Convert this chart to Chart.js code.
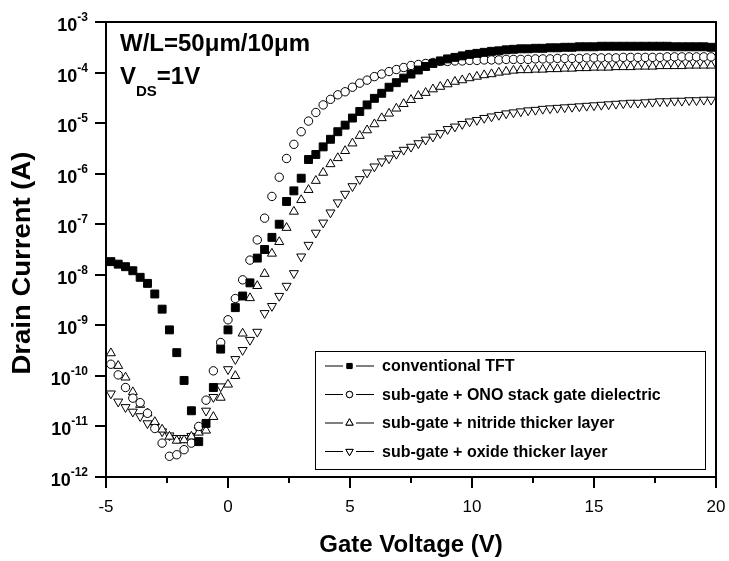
<!DOCTYPE html>
<html>
<head>
<meta charset="utf-8">
<script src="https://cdn.jsdelivr.net/npm/chart.js@4.4.1/dist/chart.umd.min.js"></script>
<style>
html,body{margin:0;padding:0;background:#fff;}
#wrap{width:729px;height:561px;position:relative;}
</style>
</head>
<body>
<div id="wrap"><canvas id="c" width="729" height="561"></canvas></div>
<script>
// ---- data (gate voltage in V, drain current given as log10(I/A)) ----
const gateVoltage = [-4.8,-4.5,-4.2,-3.9,-3.6,-3.3,-3.0,-2.7,-2.4,-2.1,-1.8,-1.5,-1.2,-0.9,-0.6,-0.3,0,
  0.3,0.6,0.9,1.2,1.5,1.8,2.1,2.4,2.7,3.0,3.3,3.6,3.9,4.2,4.5,4.8,5.1,5.4,5.7,6.0,6.3,6.6,6.9,7.2,7.5,7.8,8.1,8.4,8.7,9.0,
  9.3,9.6,9.9,10.2,10.5,10.8,11.1,11.4,11.7,12.0,
  12.3,12.6,12.9,13.2,13.5,13.8,14.1,14.4,14.7,15.0,15.3,15.6,15.9,16.2,16.5,16.8,17.1,17.4,17.7,18.0,18.3,18.6,18.9,19.2,19.5,19.8];

const logConventional = [-7.74,-7.79,-7.84,-7.92,-8.05,-8.17,-8.38,-8.68,-9.09,-9.54,-10.09,-10.69,-11.30,-10.94,-10.23,-9.47,-9.09,
  -8.65,-8.42,-8.16,-7.67,-7.50,-7.26,-7.00,-6.55,-6.34,-6.09,-5.72,-5.62,-5.47,-5.32,-5.17,-5.04,-4.90,-4.77,-4.64,-4.51,-4.41,-4.29,-4.20,-4.11,-4.03,-3.95,-3.88,-3.82,-3.77,-3.73,
  -3.70,-3.67,-3.64,-3.62,-3.60,-3.58,-3.57,-3.55,-3.54,-3.53,
  -3.53,-3.52,-3.52,-3.51,-3.51,-3.50,-3.50,-3.49,-3.49,-3.49,-3.48,-3.48,-3.48,-3.48,-3.48,-3.48,-3.48,-3.48,-3.48,-3.48,-3.49,-3.49,-3.49,-3.49,-3.49,-3.50];

const logONO = [-9.77,-9.98,-10.23,-10.44,-10.53,-10.74,-11.04,-11.33,-11.59,-11.56,-11.46,-11.33,-11.00,-10.48,-9.90,-9.34,-8.89,
  -8.47,-8.10,-7.71,-7.31,-6.88,-6.45,-6.07,-5.70,-5.42,-5.17,-4.96,-4.79,-4.64,-4.53,-4.44,-4.38,-4.29,-4.21,-4.15,-4.08,-4.03,-3.98,-3.94,-3.90,-3.86,-3.84,-3.82,-3.80,-3.78,-3.78,
  -3.77,-3.77,-3.76,-3.76,-3.75,-3.75,-3.75,-3.74,-3.74,-3.74,
  -3.74,-3.73,-3.73,-3.73,-3.72,-3.72,-3.72,-3.72,-3.71,-3.71,-3.71,-3.71,-3.71,-3.70,-3.70,-3.70,-3.70,-3.70,-3.70,-3.69,-3.69,-3.69,-3.69,-3.69,-3.69,-3.69];

const logNitride = [-9.55,-9.80,-10.03,-10.32,-10.57,-10.74,-10.91,-11.06,-11.20,-11.28,-11.27,-11.20,-11.12,-11.08,-10.81,-10.43,-10.17,
  -10.00,-9.16,-8.46,-8.22,-7.98,-7.58,-7.35,-7.07,-6.75,-6.52,-6.32,-6.14,-5.98,-5.81,-5.69,-5.55,-5.40,-5.25,-5.14,-5.02,-4.90,-4.81,-4.71,-4.62,-4.54,-4.46,-4.40,-4.33,-4.28,-4.23,
  -4.18,-4.15,-4.11,-4.08,-4.05,-4.03,-4.00,-3.98,-3.96,-3.95,
  -3.95,-3.94,-3.94,-3.93,-3.93,-3.92,-3.92,-3.91,-3.91,-3.90,-3.90,-3.90,-3.89,-3.89,-3.89,-3.88,-3.88,-3.88,-3.87,-3.87,-3.87,-3.87,-3.86,-3.86,-3.86,-3.86];

const logOxide = [-10.35,-10.51,-10.62,-10.71,-10.80,-10.94,-11.00,-11.10,-11.18,-11.23,-11.23,-11.19,-11.07,-10.69,-10.42,-10.21,-9.87,
  -9.67,-9.49,-9.29,-9.13,-8.76,-8.62,-8.42,-8.22,-7.97,-7.64,-7.41,-7.17,-6.97,-6.77,-6.57,-6.40,-6.25,-6.11,-5.98,-5.86,-5.76,-5.70,-5.61,-5.53,-5.47,-5.40,-5.33,-5.27,-5.20,-5.12,
  -5.07,-5.02,-4.97,-4.94,-4.90,-4.87,-4.84,-4.81,-4.79,-4.77,
  -4.75,-4.74,-4.72,-4.71,-4.70,-4.69,-4.68,-4.67,-4.66,-4.65,-4.64,-4.63,-4.62,-4.61,-4.60,-4.60,-4.59,-4.58,-4.57,-4.57,-4.56,-4.56,-4.55,-4.55,-4.54,-4.54];

const seriesLabels = ['conventional TFT','sub-gate + ONO stack gate dielectric','sub-gate + nitride thicker layer','sub-gate + oxide thicker layer'];
const yTickExponents = [-3,-4,-5,-6,-7,-8,-9,-10,-11,-12];
const xTickLabels = [-5,0,5,10,15,20];
const xMinorTicks = [-2.5,2.5,7.5,12.5,17.5];

// ---- build points ----
function pts(logs){ return gateVoltage.map((v,i)=>({x:v, y:Math.pow(10, logs[i])})); }

const FONT = '"Liberation Sans", Arial, sans-serif';

const styles = [
  {pointStyle:'rect', radius:5.6, bg:'#000', rot:0, leg:3.6},
  {pointStyle:'circle', radius:4.2, bg:'#fff', rot:0, leg:3.2},
  {pointStyle:'triangle', radius:5.2, bg:'#fff', rot:0, leg:4.2},
  {pointStyle:'triangle', radius:5.2, bg:'#fff', rot:180, leg:4.2}
];
const allLogs = [logConventional, logONO, logNitride, logOxide];

const datasets = allLogs.map((lg,i)=>({
  label: seriesLabels[i],
  data: pts(lg),
  showLine:false,
  pointStyle: styles[i].pointStyle,
  pointRadius: styles[i].radius,
  pointRotation: styles[i].rot,
  pointBackgroundColor: styles[i].bg,
  pointBorderColor:'#000',
  pointBorderWidth:1,
  pointHoverRadius: styles[i].radius
}));

const decor = {
  id:'decor',
  afterDatasetsDraw(chart){
    const ctx = chart.ctx, ca = chart.chartArea, xs = chart.scales.x, ys = chart.scales.y;
    ctx.save();
    ctx.strokeStyle = '#000';
    ctx.lineWidth = 2;
    ctx.strokeRect(ca.left, ca.top, ca.right-ca.left, ca.bottom-ca.top);
    // y ticks + labels
    ctx.fillStyle = '#000';
    yTickExponents.forEach(e=>{
      const py = Math.round(ys.getPixelForValue(Math.pow(10,e)));
      ctx.beginPath(); ctx.moveTo(ca.left-11, py); ctx.lineTo(ca.left, py); ctx.stroke();
      const expTxt = String(e);
      ctx.font = 'bold 12px ' + FONT;
      ctx.textAlign = 'right'; ctx.textBaseline = 'alphabetic';
      const ew = ctx.measureText(expTxt).width;
      ctx.fillText(expTxt, 88, py - 1);
      ctx.font = 'bold 18px ' + FONT;
      ctx.fillText('10', 88 - ew, py + 9);
    });
    // x ticks + labels
    xTickLabels.forEach(v=>{
      const px = Math.round(xs.getPixelForValue(v));
      ctx.beginPath(); ctx.moveTo(px, ca.bottom); ctx.lineTo(px, ca.bottom+11); ctx.stroke();
      ctx.font = '17px ' + FONT;
      ctx.textAlign = 'center'; ctx.textBaseline = 'alphabetic';
      ctx.fillText(String(v), px, 512);
    });
    xMinorTicks.forEach(v=>{
      const px = Math.round(xs.getPixelForValue(v));
      ctx.beginPath(); ctx.moveTo(px, ca.bottom); ctx.lineTo(px, ca.bottom+6); ctx.stroke();
    });
    ctx.restore();
  },
  afterDraw(chart){
    const ctx = chart.ctx;
    ctx.save();
    ctx.fillStyle = '#000';
    // axis titles
    ctx.font = 'bold 24px ' + FONT;
    ctx.textAlign = 'center'; ctx.textBaseline = 'alphabetic';
    ctx.fillText('Gate Voltage (V)', 411, 552);
    ctx.save();
    ctx.translate(30, 263);
    ctx.rotate(-Math.PI/2);
    ctx.scale(1.1, 1);
    ctx.font = 'bold 25px ' + FONT;
    ctx.fillText('Drain Current (A)', 0, 0);
    ctx.restore();
    // annotation
    ctx.textAlign = 'left';
    ctx.font = 'bold 24px ' + FONT;
    ctx.fillText('W/L=50\u03bcm/10\u03bcm', 120, 51);
    ctx.fillText('V', 120, 84);
    let x = 120 + ctx.measureText('V').width;
    ctx.font = 'bold 15px ' + FONT;
    ctx.fillText('DS', x, 96);
    x += ctx.measureText('DS').width;
    ctx.font = 'bold 24px ' + FONT;
    ctx.fillText('=1V', x, 84);
    // legend
    ctx.lineWidth = 1;
    ctx.strokeStyle = '#000';
    ctx.strokeRect(315.5, 351.5, 390, 118);
    const rows = [366, 394.5, 423, 451.5];
    rows.forEach((ry,i)=>{
      ctx.beginPath();
      ctx.moveTo(325, ry); ctx.lineTo(343, ry);
      ctx.moveTo(356, ry); ctx.lineTo(374, ry);
      ctx.stroke();
      const st = styles[i];
      Chart.helpers.drawPoint(ctx, {pointStyle: st.pointStyle, radius: st.leg, rotation: st.rot, borderWidth:1}, 349.5, ry);
      ctx.fillStyle = st.bg; ctx.fill();
      ctx.stroke();
      ctx.fillStyle = '#000';
      ctx.font = 'bold 16px ' + FONT;
      ctx.textBaseline = 'middle';
      ctx.fillText(seriesLabels[i], 382, ry + 1);
      ctx.textBaseline = 'alphabetic';
    });
    ctx.restore();
  }
};

new Chart(document.getElementById('c'), {
  type:'scatter',
  data:{datasets},
  options:{
    responsive:false,
    animation:false,
    devicePixelRatio:1,
    layout:{padding:{top:22,right:13,left:0,bottom:0}},
    plugins:{legend:{display:false}, tooltip:{enabled:false}},
    scales:{
      x:{type:'linear', position:'bottom', min:-5, max:20,
         grid:{display:false}, border:{display:false}, ticks:{display:false},
         afterFit(s){ s.height = 84; }},
      y:{type:'logarithmic', position:'left', min:1e-12, max:1e-3,
         grid:{display:false}, border:{display:false}, ticks:{display:false},
         afterFit(s){ s.width = 106; }}
    }
  },
  plugins:[decor]
});
</script>
</body>
</html>
